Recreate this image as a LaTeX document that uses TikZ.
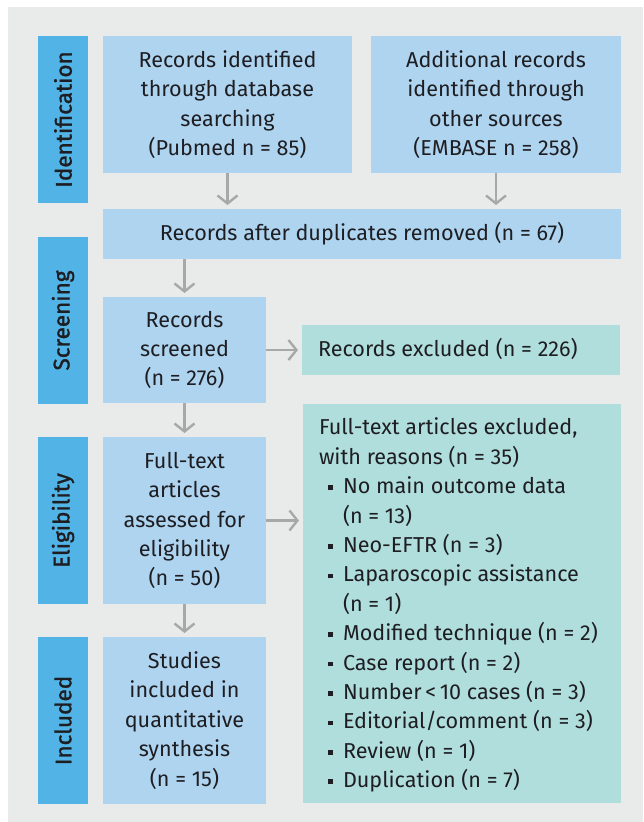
\documentclass[tikz,border=0pt]{standalone}
\usepackage{fontspec}
\setmainfont{Fira Sans}
\newfontface\stagefont[FakeBold=1.3]{Fira Sans}
\usetikzlibrary{arrows.meta}
\definecolor{bgc}{HTML}{E9EBEB}
\definecolor{boxblue}{HTML}{AED4F0}
\definecolor{boxteal}{HTML}{B0DEDD}
\definecolor{labblue}{HTML}{52B4E6}
\definecolor{arrc}{HTML}{A8A8A8}
\definecolor{txt}{HTML}{1E1E22}
\tikzset{
  every node/.style={inner sep=0pt, outer sep=0pt, text=txt},
  fs/.style={font=\fontsize{21.6pt}{29.4pt}\selectfont},
  bluebox/.style={fill=boxblue, fs, align=center, anchor=north west},
  tealbox/.style={fill=boxteal, fs, anchor=north west},
  stagebox/.style={fill=labblue, anchor=north west, minimum width=50pt},
  stagetxt/.style={font=\stagefont\fontsize{22.5pt}{27pt}\selectfont, rotate=90},
  flow/.style={draw=arrc, line width=2.4pt, shorten >=4pt,
    -{Straight Barb[length=8pt,width=20pt,line width=2.4pt]}}
}
\newcommand{\bul}{\makebox[24pt][l]{\hspace{9pt}\raisebox{3.6pt}{\rule{4.6pt}{4.6pt}}}}
\newcommand{\ind}{\hspace*{24pt}}
\begin{document}
\begin{tikzpicture}[x=1pt,y=-1pt]
\useasboundingbox (0,0) rectangle (643,822);
\fill[bgc] (8,7) rectangle (643,822);
% stage labels
\node[stagebox, minimum height=167pt] (sid) at (38,36) {};
\node[stagetxt] at (sid.center) {Identification};
\node[stagebox, minimum height=167pt] (ssc) at (38,237) {};
\node[stagetxt] at (ssc.center) {Screening};
\node[stagebox, minimum height=167pt] (sel) at (38,437) {};
\node[stagetxt] at (sel.center) {Eligibility};
\node[stagebox, minimum height=167pt] (sin) at (38,637) {};
\node[stagetxt] at (sin.center) {Included};
% boxes
\node[bluebox, minimum width=249pt, minimum height=137pt] (b1) at (103,36) {};
\node[fs, align=center] at (b1.center) {Records identified\\through database\\searching\\(Pubmed n = 85)};
\node[bluebox, minimum width=250pt, minimum height=137pt] (b2) at (371,36) {};
\node[fs, align=center] at (b2.center) {Additional records\\identified through\\other sources\\(EMBASE n = 258)};
\node[bluebox, minimum width=518pt, minimum height=50pt] (dup) at (103,209) {};
\node[fs] at (dup.center) {Records after duplicates removed (n = 67)};
\node[bluebox, minimum width=163pt, minimum height=106pt] (scr) at (103,297) {};
\node[fs, align=center] at (scr.center) {Records\\screened\\(n = 276)};
\node[bluebox, minimum width=163pt, minimum height=167pt] (elig) at (103,437) {};
\node[fs, align=center] at (elig.center) {Full-text\\articles\\assessed for\\eligibility\\(n = 50)};
\node[bluebox, minimum width=163pt, minimum height=167pt] (inc) at (103,637) {};
\node[fs, align=center] at (inc.center) {Studies\\included in\\quantitative\\synthesis\\(n = 15)};
\node[tealbox, minimum width=318pt, minimum height=50pt] (exc) at (302,325) {};
\node[fs, anchor=west] at ([xshift=16pt,yshift=1pt]exc.west) {Records excluded (n = 226)};
\node[tealbox, minimum width=318pt, minimum height=399pt] (ftx) at (303,404) {};
\node[fs, align=left, anchor=north west] at (319,418) {Full-text articles excluded,\\with reasons (n = 35)\\
\bul No main outcome data\\\ind(n = 13)\\
\bul Neo-EFTR (n = 3)\\
\bul Laparoscopic assistance\\\ind(n = 1)\\
\bul Modified technique (n = 2)\\
\bul Case report (n = 2)\\
\bul Number\,<\,10 cases (n = 3)\\
\bul Editorial/comment (n = 3)\\
\bul Review (n = 1)\\
\bul Duplication (n = 7)};
% connectors
\draw[flow] (b1.south) -- (b1.south |- dup.north);
\draw[flow] (b2.south) -- (b2.south |- dup.north);
\draw[flow] (dup.south -| scr.north) -- (scr.north);
\draw[flow] (scr.south) -- (elig.north);
\draw[flow] (elig.south) -- (inc.north);
\draw[flow] (scr.east) -- (scr.east -| exc.west);
\draw[flow] (elig.east) -- (elig.east -| ftx.west);
\end{tikzpicture}
\end{document}
